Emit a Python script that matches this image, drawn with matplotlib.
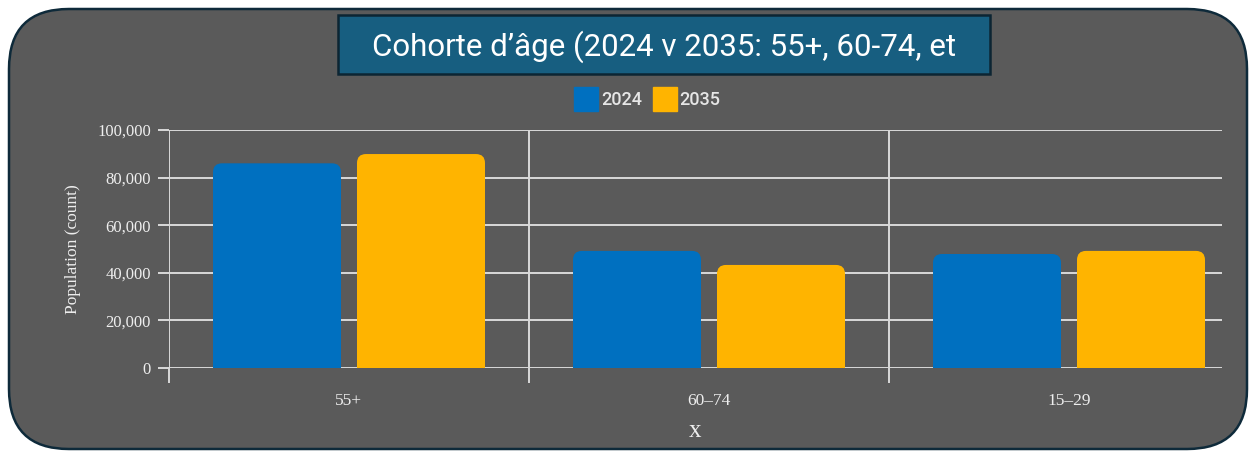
import matplotlib
matplotlib.use("Agg")
import matplotlib.pyplot as plt
from matplotlib.patches import FancyBboxPatch, Rectangle
from matplotlib.transforms import IdentityTransform
from matplotlib.lines import Line2D
import numpy as np

categories = ["55+", "60–74", "15–29"]
series_names = ["2024", "2035"]
values_2024 = [86000, 49200, 47900]
values_2035 = [89900, 43300, 49200]
y_ticks = [0, 20000, 40000, 60000, 80000, 100000]
title_text = "Cohorte d’âge (2024 v 2035: 55+, 60-74, et"
colors = ["#0070c0", "#ffb400"]

W, H = 1250, 453
fig = plt.figure(figsize=(W / 100, H / 100), dpi=100, facecolor="white")

# card background (pixel coordinates)
card = FancyBboxPatch((9, 4), 1238, 440, boxstyle="round,pad=0,rounding_size=60",
                      transform=IdentityTransform(), facecolor="#5a5a5a",
                      edgecolor="#0e2a3a", linewidth=1.8, zorder=0)
fig.add_artist(card)

# title box
tbox = Rectangle((338, 379), 652, 59, transform=IdentityTransform(),
                 facecolor="#175e80", edgecolor="#0c2533", linewidth=1.8, zorder=1)
fig.add_artist(tbox)
fig.text(664 / W, 1 - 47 / H, title_text, ha="center", va="center", color="white",
         fontsize=22.5, family=["Roboto", "DejaVu Sans"], zorder=2)

ax = fig.add_axes([169 / W, 1 - 368 / H, (1222 - 169) / W, (368 - 130) / H])
ax.set_facecolor("none")

x = np.arange(len(categories))
bw = 128 / 360
gap = 16 / 360
offsets = [-(bw + gap) / 2, (bw + gap) / 2]
series = [values_2024, values_2035]

ax.set_xlim(-0.5, 2.425)
ax.set_ylim(0, 100000)

px_x = 360.0  # pixels per category
px_y = 238.0 / 100000  # pixels per unit
r_px = 9
rx = r_px / px_x
aspect = (1 / px_y) * px_x  # y-units per px / x-units per px

for vals, off, c, name in zip(series, offsets, colors, series_names):
    bars = ax.bar(x + off, vals, width=bw, color=c, alpha=0)
    for b in bars:
        bx, by = b.get_x(), b.get_y()
        bwid, bh = b.get_width(), b.get_height()
        ax.add_patch(FancyBboxPatch((bx, by), bwid, bh,
                                    boxstyle=f"round,pad=0,rounding_size={rx}",
                                    mutation_aspect=aspect, facecolor=c,
                                    edgecolor="none", zorder=3))
        ax.add_patch(Rectangle((bx, by), bwid, bh / 2, facecolor=c,
                               edgecolor="none", zorder=3))

grid_c = "#d9d9d9"
ax.set_yticks(y_ticks)
ax.set_yticklabels([f"{v:,}" for v in y_ticks])
ax.set_xticks([-0.5, 0.5, 1.5])
ax.set_xticklabels([])
ax.set_xticks(x, minor=True)
ax.set_xticklabels(categories, minor=True)
ax.grid(True, axis="both", which="major", color=grid_c, linewidth=1.4, zorder=1)
ax.set_axisbelow(True)
for s in ax.spines.values():
    s.set_visible(False)

serif = ["Liberation Serif", "DejaVu Serif"]
ax.tick_params(axis="y", which="major", length=8, width=1.4, color=grid_c, pad=5,
               labelsize=12, labelcolor="#eeeeee")
ax.tick_params(axis="x", which="major", length=11, width=1.4, color=grid_c)
ax.tick_params(axis="x", which="minor", length=0, pad=18, labelsize=12.5,
               labelcolor="#eeeeee")
for lab in ax.get_yticklabels() + ax.get_xticklabels(minor=True):
    lab.set_family(serif)

ax.set_ylabel("Population (count)", family=serif, fontsize=12.5, color="#eeeeee",
              labelpad=12)
ax.set_xlabel("x", family=serif, fontsize=18, color="#eeeeee", labelpad=8)

handles = [Line2D([], [], linestyle="none", marker="s", markersize=17,
                  markerfacecolor=c, markeredgecolor=c) for c in colors]
leg = fig.legend(handles, series_names, loc="center", bbox_to_anchor=(649 / W, 1 - 100 / H),
                 ncol=2, frameon=False, handlelength=1.0, handletextpad=0.3,
                 columnspacing=0.8,
                 prop={"family": ["Roboto", "DejaVu Sans"], "size": 13,
                       "weight": "medium"})
for t in leg.get_texts():
    t.set_color("#e6e6e6")

fig.savefig("out.png", dpi=100, facecolor="white")
